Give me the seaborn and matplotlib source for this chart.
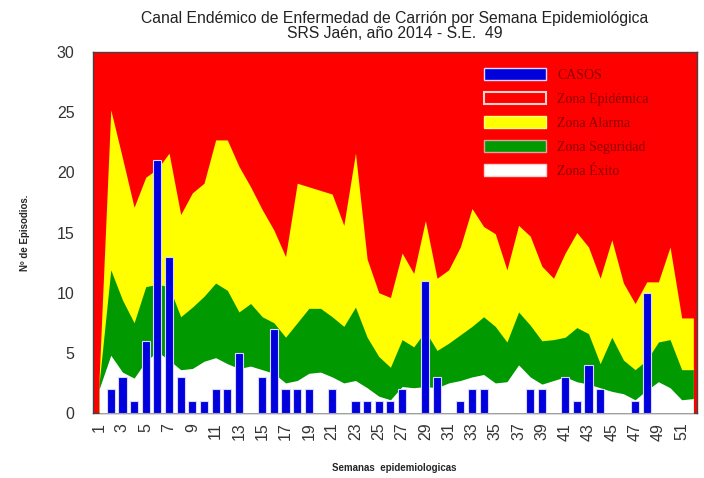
import numpy as np
import pandas as pd
import matplotlib
matplotlib.use("Agg")
import matplotlib.pyplot as plt
import seaborn as sns
from matplotlib.patches import Patch

# semanas epidemiologicas 1..52
semanas = list(range(1, 53))

# casos por semana (2014)
casos = [0, 2, 3, 1, 6, 21, 13, 3, 1, 1, 2, 2, 5, 0, 3, 7, 2, 2, 2, 0,
         2, 0, 1, 1, 1, 1, 2, 0, 11, 3, 0, 1, 2, 2, 0, 0, 0, 2, 2, 0,
         3, 1, 4, 2, 0, 0, 1, 10, 0, 0, 0, 0]

# limites del canal endemico
zona_alarma = [3.0, 25.2, 21.2, 17.1, 19.6, 20.3, 21.6, 16.5, 18.3, 19.1,
               22.7, 22.7, 20.5, 18.8, 16.9, 15.2, 13.0, 19.1, 18.8, 18.5,
               18.2, 15.6, 21.6, 12.8, 10.0, 9.6, 13.3, 11.6, 16.0, 11.2,
               11.9, 13.8, 17.0, 15.5, 14.9, 11.9, 15.6, 14.7, 12.2, 11.2,
               13.3, 15.0, 13.8, 11.2, 14.4, 10.8, 9.1, 10.9, 10.9, 13.8,
               7.9, 7.9]
zona_seguridad = [2.5, 11.9, 9.4, 7.5, 10.5, 10.7, 10.5, 8.0, 8.8, 9.7,
                  10.8, 10.2, 8.4, 9.1, 8.0, 7.5, 6.3, 7.5, 8.7, 8.7,
                  8.0, 7.2, 8.8, 6.3, 4.7, 3.8, 6.1, 5.5, 6.8, 5.2,
                  5.8, 6.5, 7.2, 8.0, 7.2, 5.9, 8.4, 7.3, 6.0, 6.1,
                  6.3, 7.1, 6.6, 4.1, 6.3, 4.4, 3.6, 4.4, 5.9, 6.1,
                  3.6, 3.6]
zona_exito = [2.0, 4.8, 3.4, 2.9, 4.3, 5.1, 4.4, 3.6, 3.7, 4.3,
              4.6, 4.1, 3.7, 3.9, 3.6, 3.3, 2.5, 2.7, 3.3, 3.4,
              3.0, 2.5, 2.7, 2.1, 1.4, 1.1, 2.2, 2.1, 2.2, 2.1,
              2.5, 2.7, 3.0, 3.2, 2.5, 2.6, 4.0, 3.0, 2.4, 2.7,
              3.0, 2.6, 2.4, 2.1, 1.8, 1.6, 1.1, 1.9, 2.6, 2.1,
              1.1, 1.2]

df = pd.DataFrame({"semana": semanas, "casos": casos,
                   "alarma": zona_alarma, "seguridad": zona_seguridad,
                   "exito": zona_exito})

sns.set_style("white")
plt.rcParams["font.family"] = ["Liberation Sans", "DejaVu Sans"]

fig = plt.figure(figsize=(7.04, 4.78), dpi=100)
ax = fig.add_axes([0.1314, 0.136, 0.8586, 0.755])

# zona epidemica = fondo rojo
ax.set_facecolor("#ff0000")
ax.fill_between(df["semana"], 0, df["alarma"], color="#ffff00", lw=0, zorder=1)
ax.fill_between(df["semana"], 0, df["seguridad"], color="#009900", lw=0, zorder=2)
ax.fill_between(df["semana"], 0, df["exito"], color="white", lw=0, zorder=3)

con_casos = df[df["casos"] > 0]
sns.barplot(data=con_casos, x="semana", y="casos", native_scale=True,
            color="#0000dd", saturation=1, width=0.7,
            edgecolor="#d8d8ff", linewidth=0.8, ax=ax, zorder=4)

ax.set_xlim(0.43, 52.31)
ax.set_ylim(0, 30)
ax.set_yticks(range(0, 31, 5))
ax.set_xticks(range(1, 53, 2))
ax.set_xticklabels([str(s) for s in range(1, 53, 2)], rotation=90)
ax.tick_params(axis="x", labelsize=11.5, labelcolor="#333333", length=0, pad=7)
ax.tick_params(axis="y", labelsize=11.5, labelcolor="#333333", length=0, pad=13)
for sp in ax.spines.values():
    sp.set_color("#444444")
    sp.set_linewidth(1.0)

ax.set_xlabel("Semanas  epidemiologicas", fontsize=7, fontweight="bold", labelpad=16)
ax.set_ylabel("Nº de Episodios.", fontsize=7, fontweight="bold", labelpad=19)
ax.set_title("Canal Endémico de Enfermedad de Carrión por Semana Epidemiológica\n"
             "SRS Jaén, año 2014 - S.E.  49", fontsize=11.3, color="#222222",
             pad=10, linespacing=1.0)

handles = [Patch(facecolor="#0000dd", edgecolor="#d8d8ff", lw=1),
           Patch(facecolor="#ff0000", edgecolor="#ffd0d0", lw=1.5),
           Patch(facecolor="#ffff00", edgecolor="#ffff80", lw=1),
           Patch(facecolor="#009900", edgecolor="#e0a0a0", lw=1),
           Patch(facecolor="white", edgecolor="#ffd0d0", lw=1)]
labels = ["CASOS", "Zona Epidémica", "Zona Alarma", "Zona Seguridad", "Zona Éxito"]
leg = ax.legend(handles, labels, loc="upper left", bbox_to_anchor=(0.636, 0.975),
                frameon=False, borderpad=0, handlelength=4.5, handleheight=1.0,
                labelspacing=0.72, handletextpad=0.8,
                prop={"family": "Liberation Serif", "size": 10})
for t in leg.get_texts():
    t.set_color("#8b0000")
leg.set_zorder(10)

fig.savefig("out.png", dpi=100)
